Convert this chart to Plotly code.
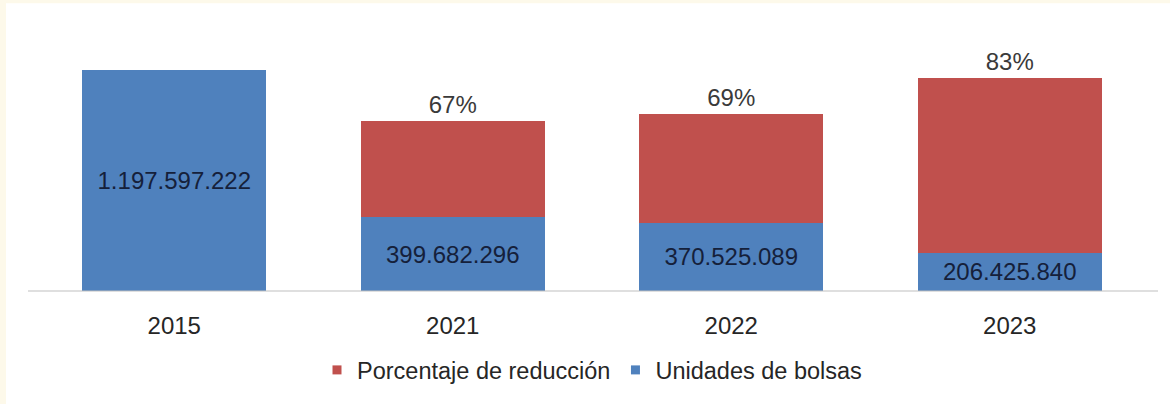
import plotly.graph_objects as go

years = ["2015", "2021", "2022", "2023"]
unidades = [1197597222, 399682296, 370525089, 206425840]
reduccion = [None, 520700000, 587600000, 950800000]
reduccion_labels = ["", "67%", "69%", "83%"]
serie_unidades = "Unidades de bolsas"
serie_reduccion = "Porcentaje de reducción"

W, H = 1170, 404
L, R, T, B = 35, 21, 20, 110
pw, ph = W - L - R, H - T - B

def px_x(px):
    return (px - L) / pw

def px_y(py):
    return (H - B - py) / ph

BLUE = "#4F81BD"
RED = "#C0504D"
FONT = "Liberation Sans, Arial, sans-serif"

fig = go.Figure()
fig.add_trace(go.Bar(
    x=years, y=unidades, name=serie_unidades, showlegend=False,
    marker=dict(color=BLUE, line=dict(width=0)),
    texttemplate="%{y:,.0f}", textposition="inside",
    insidetextanchor="middle",
    textfont=dict(family=FONT, size=24, color="#15203a"),
    hoverinfo="skip",
))
fig.add_trace(go.Bar(
    x=years, y=reduccion, name=serie_reduccion, showlegend=False,
    marker=dict(color=RED, line=dict(width=0)),
    text=reduccion_labels, textposition="outside",
    textfont=dict(family=FONT, size=24, color="#3a3a3a"),
    cliponaxis=False, hoverinfo="skip",
))
# legend proxies (small square markers like the original)
for nm, col in [(serie_reduccion, RED), (serie_unidades, BLUE)]:
    fig.add_trace(go.Scatter(
        x=[None], y=[None], mode="markers", name=nm,
        marker=dict(symbol="square", size=9, color=col),
        hoverinfo="skip",
    ))

fig.update_layout(
    width=W, height=H,
    margin=dict(l=L, r=R, t=T, b=B),
    barmode="stack", bargap=0.338,
    separators=",.",
    paper_bgcolor="#FDF9EA", plot_bgcolor="white",
    font=dict(family=FONT, size=24, color="#262626"),
    showlegend=True,
    legend=dict(
        orientation="h", traceorder="normal",
        x=0.5, xanchor="center", y=px_y(374), yanchor="middle",
        font=dict(family=FONT, size=23.5, color="#262626"),
        bgcolor="rgba(0,0,0,0)", itemwidth=30,
    ),
    xaxis=dict(
        showline=False, showgrid=False, zeroline=False, ticks="",
        ticklabelstandoff=18,
        tickfont=dict(family=FONT, size=24, color="#262626"),
    ),
    yaxis=dict(
        range=[0, 1469400000], visible=False, showgrid=False, zeroline=False,
    ),
    shapes=[
        dict(type="rect", xref="paper", yref="paper", layer="below",
             x0=px_x(6), x1=px_x(1175), y0=px_y(410), y1=px_y(3),
             fillcolor="white", line=dict(width=0)),
        dict(type="line", xref="paper", yref="paper", layer="above",
             x0=px_x(28), x1=px_x(1158), y0=0, y1=0,
             line=dict(color="#BFBFBF", width=1.2)),
    ],
)

fig.write_html(
    "out.html",
    config={"displayModeBar": False},
    post_script="document.body.style.margin='0';document.body.style.padding='0';",
)
